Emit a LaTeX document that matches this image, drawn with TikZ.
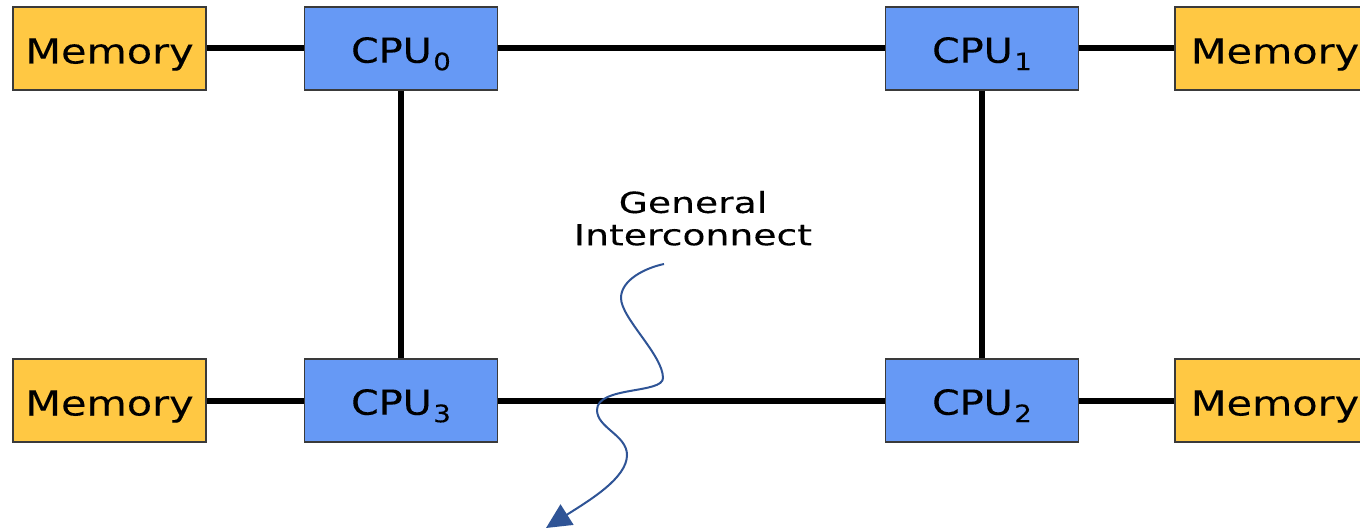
\documentclass[tikz,border=0pt]{standalone}
\usepackage{fontspec}
\setmainfont{DejaVu Sans}
\newfontfamily\memfont{DejaVu Sans}[FakeStretch=1.2,FakeBold=0.2]
\newfontfamily\cpufont{DejaVu Sans}[FakeStretch=1.15,FakeBold=0.2]
\newfontfamily\gifont{DejaVu Sans}[FakeStretch=1.3,FakeBold=0.2]
\usetikzlibrary{arrows.meta}
\definecolor{memfill}{HTML}{FFC843}
\definecolor{cpufill}{HTML}{6699F5}
\definecolor{boxline}{HTML}{3A3A3A}
\definecolor{arrowblue}{HTML}{2F5496}
\newcommand{\cpusub}[1]{\hspace{1.5pt}\raisebox{-7.5pt}{\fontsize{24}{24}\selectfont #1}}
\begin{document}
\begin{tikzpicture}[x=1pt,y=-1pt,
  boxbase/.style={draw=boxline,line width=1.5pt,minimum width=193pt,minimum height=83pt,inner sep=0pt,text depth=0pt},
  mem/.style={boxbase,fill=memfill,text height=30pt,font=\memfont\fontsize{34.5}{40}\selectfont},
  cpu/.style={boxbase,fill=cpufill,text height=28.4pt,font=\cpufont\fontsize{34.5}{40}\selectfont},
  link/.style={line width=6pt,black},
  squig/.style={arrowblue,line width=2pt,-{Triangle[length=25pt,width=24pt]}}]
\clip (0,0) rectangle (1360,532);
\node[mem] (m0) at (109.5,48.5) {Memory};
\node[cpu] (c0) at (401,48.5) {CPU\cpusub{0}};
\node[cpu] (c1) at (982,48.5) {CPU\cpusub{1}};
\node[mem,minimum width=200pt] (m1) at (1275,48.5) {Memory};
\node[mem] (m3) at (109.5,400.5) {Memory};
\node[cpu] (c3) at (401,400.5) {CPU\cpusub{3}};
\node[cpu] (c2) at (982,400.5) {CPU\cpusub{2}};
\node[mem,minimum width=200pt] (m2) at (1275,400.5) {Memory};
\draw[link] (m0) -- (c0);
\draw[link] (c0) -- (c1);
\draw[link] (c1) -- (m1);
\draw[link] (m3) -- (c3);
\draw[link] (c3) -- (c2);
\draw[link] (c2) -- (m2);
\draw[link] (c0) -- (c3);
\draw[link] (c1) -- (c2);
\node[align=center,anchor=north,inner sep=0pt,font=\gifont\fontsize{29}{32.3}\selectfont] (gi) at (693,190.7) {General\\Interconnect};
\coordinate (s0) at (664,264);
\coordinate (s5) at (546,528);
\draw[squig] (s0) .. controls (645,268) and (621,280) .. (621,298)
  .. controls (621,318) and (663,355) .. (663,378)
  .. controls (663,394) and (597,386) .. (597,410)
  .. controls (597,428) and (627,435) .. (627,455)
  .. controls (627,478) and (590,500) .. (s5);
\end{tikzpicture}
\end{document}
